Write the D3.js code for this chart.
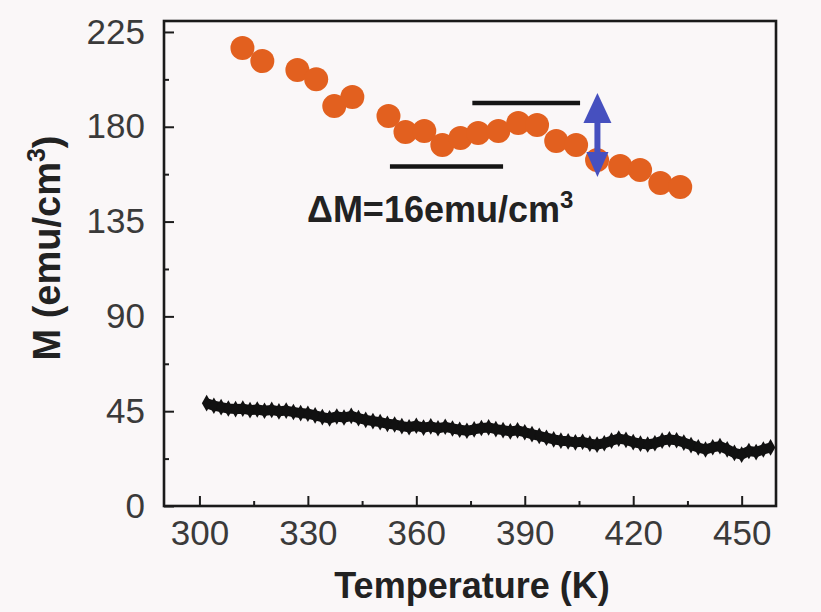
<!DOCTYPE html>
<html>
<head>
<meta charset="utf-8">
<script src="https://cdn.jsdelivr.net/npm/d3@7"></script>
<style>
  body { margin: 0; background: #faf7f8; }
  svg { display: block; }
  text { font-family: "Liberation Sans", Arial, Helvetica, sans-serif; }
</style>
</head>
<body>
<svg id="chart" width="821" height="612"></svg>
<script>
// Film magnetisation on heating (orange markers)
const heatTemp = [311.9, 317.4, 327.1, 332.3, 337.3, 342.3, 352.3, 357.0, 362.2, 367.2, 372.2,
                  377.1, 382.7, 388.2, 393.4, 398.7, 404.2, 410.0, 416.4, 421.9, 427.5, 433.0];
const heatMag  = [217.4, 211.2, 206.9, 202.6, 189.8, 194.1, 185.1, 177.5, 178.0, 171.3, 174.7,
                  177.0, 178.0, 181.8, 180.8, 173.2, 171.3, 164.2, 161.4, 159.5, 153.3, 151.4];

// Reference sample trace (black band)
const refTemp = [302, 304, 306, 308, 310, 312, 314, 316, 318, 320, 322, 324, 326, 328, 330, 332,
                 334, 336, 338, 340, 342, 344, 346, 348, 350, 352, 354, 356, 358, 360, 362, 364,
                 366, 368, 370, 372, 374, 376, 378, 380, 382, 384, 386, 388, 390, 392, 394, 396,
                 398, 400, 402, 404, 406, 408, 410, 412, 414, 416, 418, 420, 422, 424, 426, 428,
                 430, 432, 434, 436, 438, 440, 442, 444, 446, 448, 450, 452, 454, 456, 458];
const refMag  = [48.8, 47.6, 46.9, 46.3, 46.0, 46.2, 45.5, 45.8, 45.2, 45.6, 44.9, 45.3, 44.6, 44.1, 43.8, 43.0,
                 42.2, 41.6, 42.5, 42.0, 42.8, 41.7, 40.9, 40.3, 39.8, 39.0, 38.7, 37.9, 37.4, 38.1, 37.2, 37.8,
                 36.9, 37.6, 36.8, 36.2, 35.7, 36.4, 37.0, 37.3, 36.5, 36.0, 35.4, 35.9, 35.0, 34.1, 33.3, 32.4,
                 31.6, 31.0, 30.7, 30.2, 30.5, 29.6, 29.1, 29.8, 31.0, 32.0, 31.4, 30.3, 29.6, 29.2, 29.8, 31.0,
                 31.6, 31.2, 30.1, 28.9, 27.8, 26.8, 27.9, 28.4, 26.9, 25.2, 24.4, 26.1, 25.6, 26.8, 27.8];

// Guide levels and the step marker
const upperLevelT = [375.5, 405.3];
const upperLevelM = 191.3;
const lowerLevelT = [352.7, 384.0];
const lowerLevelM = 161.1;
const stepT = 410.1;
const stepM = [156.1, 196.0];

const xMajor = [300, 330, 360, 390, 420, 450];
const xMinor = [315, 345, 375, 405, 435];
const yMajor = [0, 45, 90, 135, 180, 225];
const yMinor = [22.5, 67.5, 112.5, 157.5, 202.5];

const svg = d3.select("#chart");
const x = d3.scaleLinear().domain([290.2, 459.5]).range([164, 776]);
const y = d3.scaleLinear().domain([0, 230.2]).range([506, 21]);

// minor ticks
svg.append("g").attr("transform", `translate(0,${y(0)})`)
  .call(d3.axisBottom(x).tickValues(xMinor).tickSize(-5).tickFormat(""))
  .call(g => g.select(".domain").remove())
  .selectAll("line").attr("stroke", "#1c1c1c").attr("stroke-width", 2);
svg.append("g").attr("transform", `translate(${x.range()[0]},0)`)
  .call(d3.axisLeft(y).tickValues(yMinor).tickSize(-5).tickFormat(""))
  .call(g => g.select(".domain").remove())
  .selectAll("line").attr("stroke", "#1c1c1c").attr("stroke-width", 2);

// major ticks with labels
const gx = svg.append("g").attr("transform", `translate(0,${y(0)})`)
  .call(d3.axisBottom(x).tickValues(xMajor).tickSize(-10).tickPadding(14).tickFormat(d3.format("d")));
gx.select(".domain").remove();
gx.selectAll("line").attr("stroke", "#1c1c1c").attr("stroke-width", 2);
gx.selectAll("text").attr("font-size", 35).attr("fill", "#3a3a3a")
  .attr("font-family", "'Liberation Sans', Arial, sans-serif");

const gy = svg.append("g").attr("transform", `translate(${x.range()[0]},0)`)
  .call(d3.axisLeft(y).tickValues(yMajor).tickSize(-10).tickPadding(19).tickFormat(d3.format("d")));
gy.select(".domain").remove();
gy.selectAll("line").attr("stroke", "#1c1c1c").attr("stroke-width", 2);
gy.selectAll("text").attr("font-size", 35).attr("fill", "#3a3a3a")
  .attr("font-family", "'Liberation Sans', Arial, sans-serif");

// frame
svg.append("rect")
  .attr("x", x.range()[0]).attr("y", y.range()[1])
  .attr("width", x.range()[1] - x.range()[0])
  .attr("height", y.range()[0] - y.range()[1])
  .attr("fill", "none").attr("stroke", "#1a1a1a").attr("stroke-width", 2.6);

// reference trace
const refPts = refTemp.map((t, i) => [t, refMag[i]]);
svg.append("path")
  .datum(refPts)
  .attr("d", d3.line().x(d => x(d[0])).y(d => y(d[1])))
  .attr("fill", "none").attr("stroke", "#111").attr("stroke-width", 10)
  .attr("stroke-linejoin", "round");
svg.append("g").selectAll("path").data(refPts).join("path")
  .attr("transform", d => `translate(${x(d[0])},${y(d[1])})`)
  .attr("d", d3.symbol(d3.symbolDiamond, 80))
  .attr("fill", "#111");

// guide levels
svg.append("line")
  .attr("x1", x(upperLevelT[0])).attr("x2", x(upperLevelT[1]))
  .attr("y1", y(upperLevelM)).attr("y2", y(upperLevelM))
  .attr("stroke", "#151515").attr("stroke-width", 4.5);
svg.append("line")
  .attr("x1", x(lowerLevelT[0])).attr("x2", x(lowerLevelT[1]))
  .attr("y1", y(lowerLevelM)).attr("y2", y(lowerLevelM))
  .attr("stroke", "#151515").attr("stroke-width", 4.5);

// heating data
svg.append("g").selectAll("circle").data(heatTemp).join("circle")
  .attr("cx", d => x(d))
  .attr("cy", (d, i) => y(heatMag[i]))
  .attr("r", 12)
  .attr("fill", "#e2601f");

// double-headed step marker
const ax = x(stepT), aTop = y(stepM[1]), aBot = y(stepM[0]);
const blue = "#4650bf";
svg.append("line").attr("x1", ax).attr("x2", ax)
  .attr("y1", aTop + 25).attr("y2", aBot - 22)
  .attr("stroke", blue).attr("stroke-width", 6);
svg.append("path")
  .attr("d", `M${ax},${aTop} L${ax - 14},${aTop + 30} L${ax + 14},${aTop + 30} Z`)
  .attr("fill", blue);
svg.append("path")
  .attr("d", `M${ax},${aBot} L${ax - 11},${aBot - 25} L${ax + 11},${aBot - 25} Z`)
  .attr("fill", blue);

// annotation
const ann = svg.append("text")
  .attr("x", 307).attr("y", 222)
  .attr("font-size", 36).attr("font-weight", "bold").attr("fill", "#222");
ann.append("tspan").text("ΔM=16emu/cm");
ann.append("tspan").attr("dy", -14).attr("font-size", 24).text("3");

// axis titles
const yt = svg.append("text")
  .attr("transform", "translate(60,248) rotate(-90)")
  .attr("text-anchor", "middle")
  .attr("font-size", 38).attr("font-weight", "bold").attr("fill", "#222");
yt.append("tspan").text("M (emu/cm");
yt.append("tspan").attr("dy", -15).attr("font-size", 25).text("3");
yt.append("tspan").attr("dy", 15).text(")");

svg.append("text")
  .attr("x", 472).attr("y", 598)
  .attr("text-anchor", "middle")
  .attr("font-size", 36).attr("font-weight", "bold").attr("fill", "#222")
  .text("Temperature (K)");
</script>
</body>
</html>
